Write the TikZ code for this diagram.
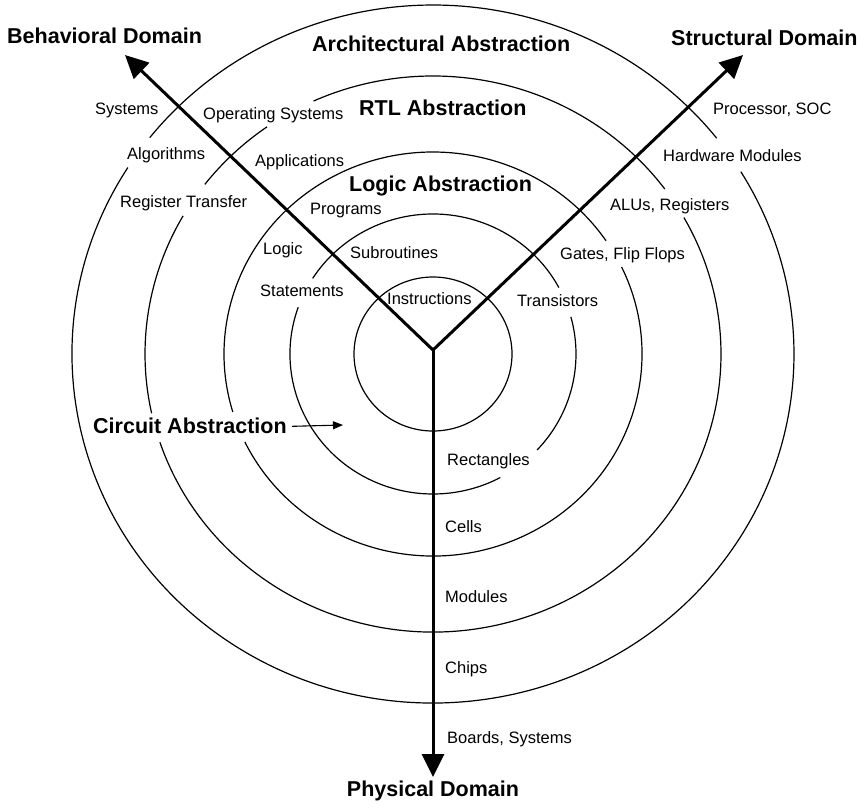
\documentclass[tikz,border=0pt]{standalone}
\usepackage{fontspec}
\setmainfont{Liberation Sans}
\usetikzlibrary{arrows.meta}
\newcommand\ringarc[4]{\draw[ring] ([shift={(#3:#1pt and #2pt)}]C) arc[start angle=#3, end angle=#4, x radius=#1pt, y radius=#2pt];}
\begin{document}
\begin{tikzpicture}[x=1pt,y=1pt,
  ring/.style={line width=1.2pt},
  axis/.style={line width=3pt, -{Triangle[length=23pt,width=22pt]}},
  lbl/.style={font=\fontsize{16.5}{18}\selectfont, inner sep=0pt, anchor=base west},
  ttl/.style={font=\bfseries\fontsize{21.5}{24}\selectfont, inner sep=0pt, anchor=base west},
  pointer/.style={line width=1.1pt, -{Triangle[length=10pt,width=8pt]}}]
\fill[white] (0,0) rectangle (857,-807);
\useasboundingbox (0,0) rectangle (857,-807);
\coordinate (C) at (433,-354);
% rings
\ringarc{361}{349}{38.2}{141.7}
\ringarc{361}{349}{147.7}{391.5}
\ringarc{288}{278}{36.4}{114.5}
\ringarc{288}{278}{125.2}{142.4}
\ringarc{288}{278}{150.2}{192.3}
\ringarc{288}{278}{198.5}{389.4}
\ringarc{209}{202}{34.1}{196.7}
\ringarc{209}{202}{205.8}{385.5}
\ringarc{143}{140}{28.3}{147.3}
\ringarc{143}{140}{160.5}{298.1}
\ringarc{143}{140}{316.7}{375.4}
\draw[ring] (C) ellipse[x radius=79pt, y radius=77pt];
% axes
\coordinate (o) at (433,-350);
\coordinate (btip) at (125,-55);
\coordinate (stip) at (743,-55);
\coordinate (ptip) at (433,-777);
\draw[axis] (o) -- (btip);
\draw[axis] (o) -- (stip);
\draw[axis] (o) -- (ptip);
% titles
\node[ttl] (behav) at (7,-43) {Behavioral Domain};
\node[ttl] (struct) at (671,-45) {Structural Domain};
\node[ttl] (arch) at (312,-51) {Architectural Abstraction};
\node[ttl] (rtl) at (359,-115) {RTL Abstraction};
\node[ttl] (logicabs) at (349,-191) {Logic Abstraction};
\node[ttl] (circ) at (93,-433) {Circuit Abstraction};
\node[ttl, anchor=base] (phys) at (433,-796) {Physical Domain};
\coordinate (circtip) at (343,-425);
\draw[pointer] ([xshift=5pt,yshift=-1pt]circ.east) -- (circtip);
% behavioral labels
\node[lbl] (sys) at (95,-114) {Systems};
\node[lbl] (os) at (203,-119) {Operating Systems};
\node[lbl] (alg) at (127,-159) {Algorithms};
\node[lbl] (app) at (255,-166) {Applications};
\node[lbl] (rt) at (120,-207) {Register Transfer};
\node[lbl] (prog) at (310,-214) {Programs};
\node[lbl] (logic) at (263,-254) {Logic};
\node[lbl] (sub) at (350,-258) {Subroutines};
\node[lbl] (stmt) at (260,-296) {Statements};
\node[lbl] (instr) at (387,-304) {Instructions};
% structural labels
\node[lbl] (proc) at (713,-114) {Processor, SOC};
\node[lbl] (hw) at (663,-161) {Hardware Modules};
\node[lbl] (alu) at (610,-210) {ALUs, Registers};
\node[lbl] (gates) at (560,-259) {Gates, Flip Flops};
\node[lbl] (trans) at (517,-306) {Transistors};
% physical labels
\node[lbl] (rect) at (447,-465) {Rectangles};
\node[lbl] (cells) at (445,-532) {Cells};
\node[lbl] (mods) at (445,-602) {Modules};
\node[lbl] (chips) at (445,-673) {Chips};
\node[lbl] (boards) at (447,-743) {Boards, Systems};
\end{tikzpicture}
\end{document}
